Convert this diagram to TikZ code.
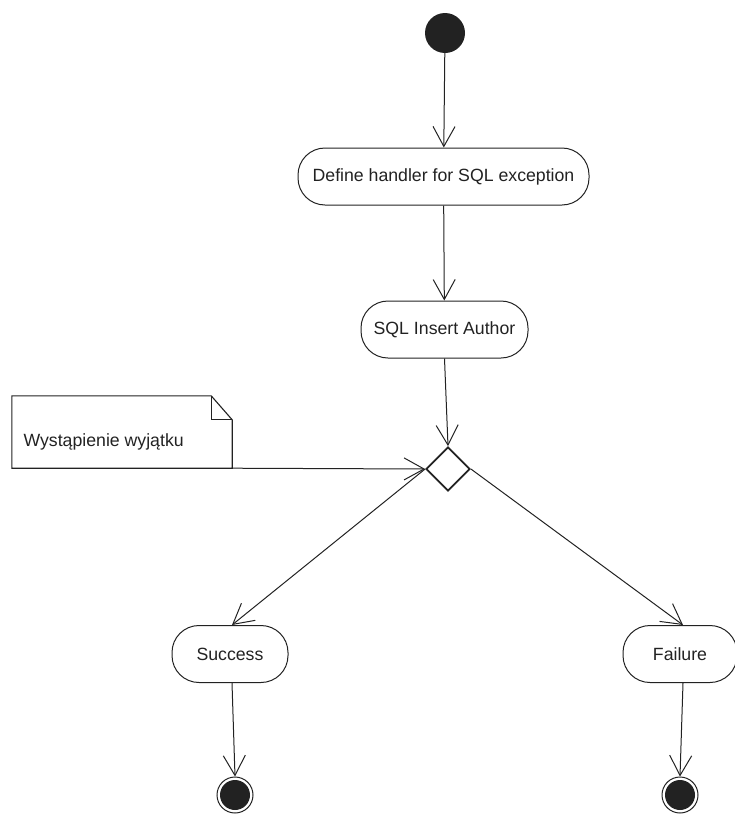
\documentclass[tikz,border=0pt]{standalone}
\usepackage{fontspec}
\setmainfont{Liberation Sans}
\usetikzlibrary{arrows.meta,shapes.geometric}
\definecolor{ink}{HTML}{222222}
\tikzset{
  every node/.style={font=\fontsize{17.7}{21}\selectfont, text=ink},
  action/.style={draw=ink, line width=1pt, rectangle, rounded corners=27pt,
                 minimum height=57pt, inner sep=0pt},
  startnode/.style={circle, fill=ink, minimum size=40pt, inner sep=0pt},
  endnode/.style={circle, draw=ink, line width=1pt, minimum size=36pt, inner sep=0pt},
  decision/.style={diamond, draw=ink, line width=1.8pt, minimum width=44pt,
                   minimum height=44pt, inner sep=0pt},
  notebox/.style={rectangle, minimum width=220pt, minimum height=72pt, inner sep=0pt},
  flow/.style={draw=ink, line width=1pt,
               -{Straight Barb[length=20pt,width=22pt,line width=1pt]}},
}
\begin{document}
\begin{tikzpicture}[x=1pt, y=-1pt]
  \useasboundingbox (0,0) rectangle (735,814);

  % activity nodes
  \node[startnode] (start) at (445,33) {};
  \node[action, minimum width=291pt] (define) at (443.5,176.5) {Define handler for SQL exception};
  \node[action, minimum width=167pt] (insert) at (444.5,329.5) {SQL Insert Author};
  \node[decision] (dia) at (448,469) {};
  \node[action, minimum width=116pt] (succ) at (230,654) {Success};
  \node[action, minimum width=114pt] (fail) at (680,654) {Failure};
  \node[endnode] (end1) at (235,795) {};
  \node[endnode] (end2) at (680,795) {};
  \fill[ink] (end1.center) circle (15pt);
  \fill[ink] (end2.center) circle (15pt);

  % comment note with folded corner
  \node[notebox] (note) at (122,432) {};
  \draw[ink, line width=1.1pt]
    (note.north west) -- ([xshift=-21pt]note.north east)
    -- ([yshift=-24pt]note.north east) -- (note.south east)
    -- (note.south west) -- cycle;
  \draw[ink, line width=1.1pt]
    ([xshift=-21pt]note.north east) |- ([yshift=-24pt]note.north east);
  \node[anchor=west] (notetext) at (20,442) {Wystąpienie wyjątku};

  % control flow
  \draw[flow] (start) -- (define);
  \draw[flow] (define) -- (insert);
  \draw[flow] (insert.south) -- (dia.north);
  \draw[flow] (note.south east) -- (dia.west);
  \draw[flow] (dia.west) -- ([xshift=2pt]succ.north);
  \draw[flow] (dia.east) -- ([xshift=3pt]fail.north);
  \draw[flow] ([xshift=2pt]succ.south) -- (end1.north);
  \draw[flow] ([xshift=3pt]fail.south) -- (end2.north);
\end{tikzpicture}
\end{document}
